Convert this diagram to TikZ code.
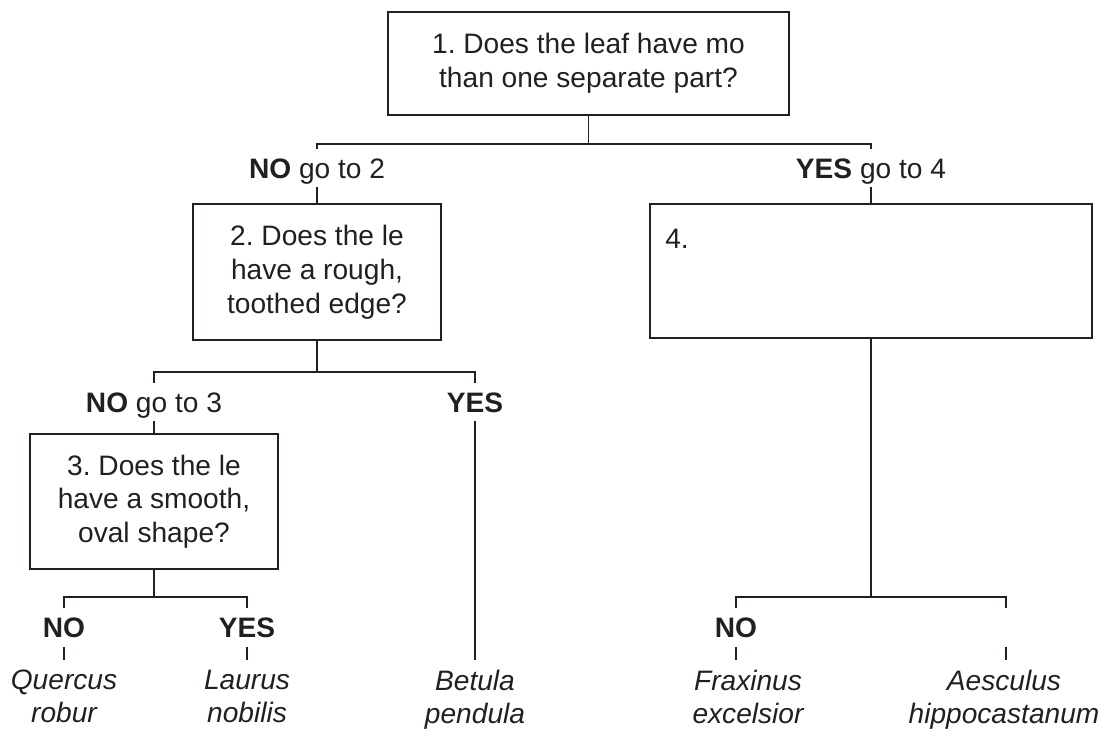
\documentclass[tikz,border=0pt]{standalone}
\usepackage{fontspec}
\setmainfont{Liberation Sans}
\usepackage{xcolor}
\usetikzlibrary{positioning}
\frenchspacing
\definecolor{inkgrey}{HTML}{231F20}
\tikzset{
  keytext/.style={font=\fontsize{20pt}{24pt}\selectfont,text=inkgrey},
  qbox/.style={keytext,draw=inkgrey,line width=1.4pt,align=center,inner sep=0pt},
  ansnode/.style={keytext,inner xsep=2pt,inner ysep=6.3pt,text height=14.3pt,text depth=0pt},
  spcnode/.style={keytext,font=\fontsize{20pt}{23.5pt}\selectfont\itshape,align=center,anchor=north,inner xsep=0pt,inner ysep=7pt},
  keyline/.style={draw=inkgrey,line width=1.3pt},
}

\begin{document}
\begin{tikzpicture}[x=0.025cm,y=-0.025cm]
  \useasboundingbox (0,0) rectangle (1102,729);
  % question boxes
  \node[qbox,minimum width=10.03cm,minimum height=2.58cm] (q1) at (588.5,63.5) {1. Does the leaf have mo\\than one separate part?};
  \node[qbox,minimum width=6.2cm,minimum height=3.4cm] (q2) at (317,272) {2. Does the le\\have a rough,\\toothed edge?};
  \node[qbox,minimum width=6.18cm,minimum height=3.38cm] (q3) at (154,501.5) {3. Does the le\\have a smooth,\\oval shape?};
  \node[qbox,minimum width=11.05cm,minimum height=3.35cm] (q4) at (871,271) {};
  \node[keytext,anchor=base west,inner sep=0pt] (q4num) at (665,248) {4.};
  % answers
  \node[ansnode] (no2) at (317,168) {\textbf{NO} go to 2};
  \node[ansnode] (yes4) at (871,168) {\textbf{YES} go to 4};
  \node[ansnode] (no3) at (154,402) {\textbf{NO} go to 3};
  \node[ansnode] (yesb) at (475,402) {\textbf{YES}};
  \node[ansnode] (noq) at (64,627.5) {\textbf{NO}};
  \node[ansnode] (yesl) at (247,627.5) {\textbf{YES}};
  \node[ansnode] (nof) at (736,627.5) {\textbf{NO}};
  \node[ansnode] (yesa) at (1006,627.5) {};
  % species
  \node[spcnode] (quercus) at (64,660) {Quercus\\robur};
  \node[spcnode] (laurus) at (247,660) {Laurus\\nobilis};
  \node[spcnode] (betula) at (475,660) {Betula\\pendula};
  \node[spcnode] (fraxinus) at (748,660) {Fraxinus\\excelsior};
  \node[spcnode] (aesculus) at (1004,660) {Aesculus\\hippocastanum};
  % connectors
  \draw[keyline] (q1.south) -- ++(0,28) coordinate (j1);
  \draw[keyline] (no2.north) |- (j1) -| (yes4.north);
  \draw[keyline] (no2.south) -- (q2.north);
  \draw[keyline] (yes4.south) -- (q4.north);
  \draw[keyline] (q2.south) -- ++(0,31) coordinate (j2);
  \draw[keyline] (no3.north) |- (j2) -| (yesb.north);
  \draw[keyline] (no3.south) -- (q3.north);
  \draw[keyline] (yesb.south) -- (betula.north);
  \draw[keyline] (q3.south) -- ++(0,27) coordinate (j3);
  \draw[keyline] (noq.north) |- (j3) -| (yesl.north);
  \draw[keyline] (noq.south) -- (quercus.north);
  \draw[keyline] (yesl.south) -- (laurus.north);
  \draw[keyline] (q4.south) -- ++(0,258) coordinate (j4);
  \draw[keyline] (nof.north) |- (j4) -| (yesa.north);
  \draw[keyline] (nof.south) -- (nof.south |- fraxinus.north);
  \draw[keyline] (yesa.south) -- (yesa.south |- aesculus.north);
\end{tikzpicture}
\end{document}
